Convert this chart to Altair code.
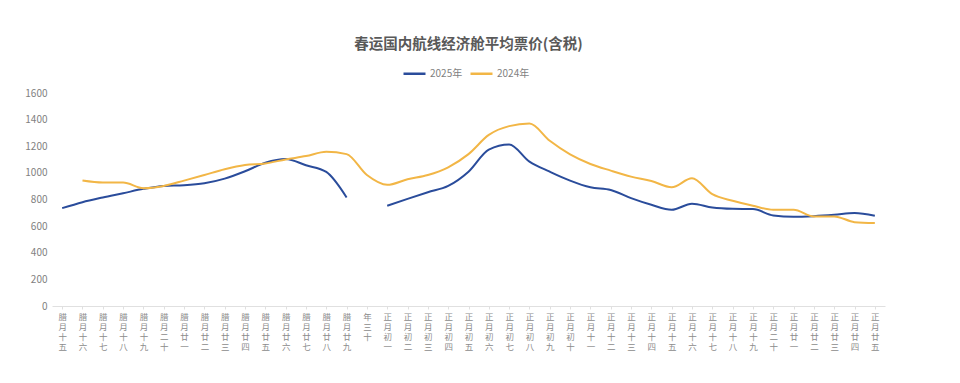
import altair as alt
import pandas as pd

days = ["腊月十五", "腊月十六", "腊月十七", "腊月十八", "腊月十九", "腊月二十",
        "腊月廿一", "腊月廿二", "腊月廿三", "腊月廿四", "腊月廿五", "腊月廿六",
        "腊月廿七", "腊月廿八", "腊月廿九", "年三十",
        "正月初一", "正月初二", "正月初三", "正月初四", "正月初五", "正月初六",
        "正月初七", "正月初八", "正月初九", "正月初十", "正月十一", "正月十二",
        "正月十三", "正月十四", "正月十五", "正月十六", "正月十七", "正月十八",
        "正月十九", "正月二十", "正月廿一", "正月廿二", "正月廿三", "正月廿四",
        "正月廿五"]

price_2025 = [735, 780, 815, 847, 880, 902, 907, 922, 957, 1012, 1076, 1104,
              1057, 1007, 815, None,
              753, 805, 855, 902, 1009, 1175, 1213, 1084, 1009, 942, 892, 872,
              810, 760, 723, 768, 740, 730, 728, 680, 670, 675, 685, 698, 678]

price_2024 = [None, 942, 927, 927, 885, 902, 942, 984, 1027, 1059, 1071, 1101,
              1126, 1159, 1141, 984,
              910, 952, 984, 1042, 1141, 1285, 1351, 1370, 1241, 1139, 1067, 1017,
              972, 939, 892, 959, 840, 790, 753, 723, 723, 673, 673, 630, 623]

series = ["2025年", "2024年"]
colors = ["#2a4c9b", "#f2b646"]

rows = []
for s, vals in zip(series, [price_2025, price_2024]):
    for d, v in zip(days, vals):
        rows.append({"day": d, "series": s, "price": v})
df = pd.DataFrame(rows)

font = "Noto Sans CJK SC"

chart = alt.Chart(df).mark_line(strokeWidth=2, interpolate="monotone").encode(
    x=alt.X("day:N", sort=days, scale=alt.Scale(paddingInner=0, paddingOuter=0),
            axis=alt.Axis(title=None, labelAngle=0, labelExpr="split(datum.label, '')",
                          labelFontSize=8.5, labelColor="#8c8c8c", labelLineHeight=10.2,
                          labelFont=font, domainColor="#e0e0e0", tickColor="#e0e0e0",
                          tickSize=3, labelPadding=3, labelBaseline="top")),
    y=alt.Y("price:Q", scale=alt.Scale(domain=[0, 1600]),
            axis=alt.Axis(title=None, values=list(range(0, 1601, 200)), grid=False,
                          domain=False, ticks=False, labelFontSize=10, format="d",
                          labelColor="#7f7f7f", labelFont=font, labelPadding=5)),
    color=alt.Color("series:N", sort=series,
                    scale=alt.Scale(domain=series, range=colors),
                    legend=alt.Legend(title=None, orient="none", direction="horizontal",
                                      legendX=350, legendY=-32, symbolType="stroke",
                                      symbolSize=484, symbolStrokeWidth=2.5,
                                      labelFontSize=10, labelColor="#7f7f7f",
                                      labelFont=font, columnPadding=2, labelOffset=3)),
).properties(
    width=833, height=213,
    title=alt.TitleParams("春运国内航线经济舱平均票价(含税)", fontSize=14.5, font=font,
                          fontWeight="bold", color="#595959", anchor="middle", offset=9),
    autosize=alt.AutoSizeParams(type="none"),
    padding={"left": 44, "top": 85, "right": 67, "bottom": 69},
).configure_view(stroke=None)

chart.save("out.html", embed_options={"renderer": "svg", "actions": False})
